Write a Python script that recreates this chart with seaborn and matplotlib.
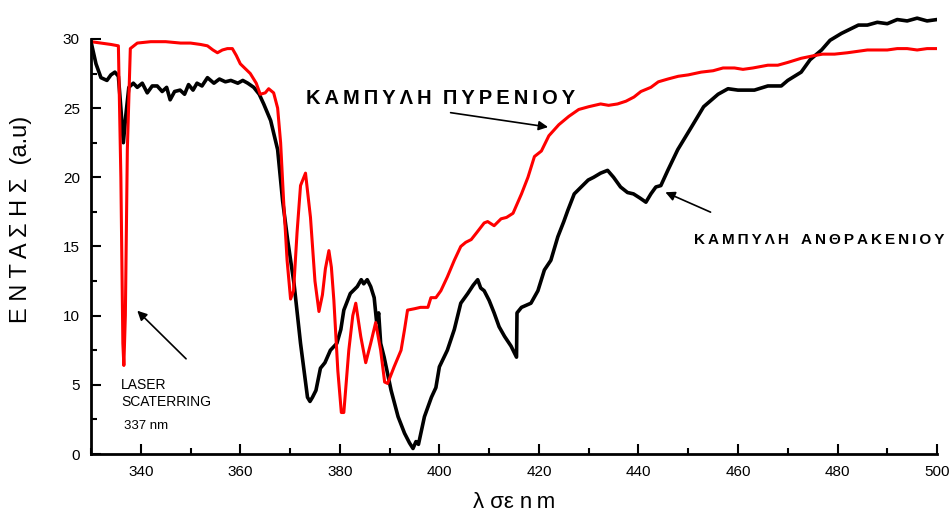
import matplotlib
matplotlib.use("Agg")
import matplotlib.pyplot as plt
import seaborn as sns
import pandas as pd
import numpy as np

# ---- data ----
anthracene_wl = [330.0, 330.5, 331.0, 332.0, 333.2, 334.0, 334.8, 335.5, 336.0, 336.5, 337.0, 337.6,
                 338.5, 339.3, 340.3, 341.3, 342.3, 343.3, 344.3, 345.2, 345.9, 346.8, 347.9, 348.8,
                 349.6, 350.5, 351.3, 352.3, 353.4, 354.7, 355.8, 357.0, 358.1, 359.5, 360.5, 361.5,
                 362.7, 363.8, 364.7, 366.1, 367.5, 368.5, 369.5, 370.8, 372.1, 373.5, 374.0, 374.5,
                 375.2, 376.1, 377.0, 378.1, 379.4, 380.2, 380.8, 382.1, 383.5, 384.3, 384.8, 385.5,
                 386.2, 386.9, 387.4, 387.8, 388.2, 388.9, 390.3, 391.7, 393.0, 394.0, 394.7, 395.3,
                 395.8, 397.0, 398.4, 399.3, 400.0, 401.6, 403.0, 404.3, 405.7, 406.8, 407.7, 408.3,
                 409.0, 410.0, 411.0, 412.0, 413.1, 414.4, 415.5, 415.6, 416.5, 418.4, 419.8, 421.1,
                 422.4, 423.8, 425.0, 425.8, 427.1, 428.5, 429.9, 431.0, 432.4, 433.8, 435.0, 436.4,
                 437.8, 439.0, 440.3, 441.5, 442.5, 443.5, 444.5, 445.9, 447.9, 450.6, 453.1, 456.0,
                 458.0, 460.0, 463.3, 466.0, 468.7, 470.0, 472.7, 474.5, 476.8, 478.5, 480.8, 482.5,
                 484.2, 486.0, 488.0, 490.0, 492.0, 494.0, 496.0, 498.0, 500.0]
anthracene_int = [29.8, 29.0, 28.2, 27.2, 27.0, 27.4, 27.6, 27.3, 25.0, 22.5, 24.5, 26.5,
                  26.8, 26.5, 26.8, 26.1, 26.6, 26.6, 26.2, 26.5, 25.6, 26.2, 26.3, 26.0,
                  26.7, 26.3, 26.8, 26.6, 27.2, 26.8, 27.1, 26.9, 27.0, 26.8, 27.0, 26.8,
                  26.5, 26.0, 25.3, 24.1, 22.0, 18.3, 15.5, 12.3, 8.0, 4.1, 3.8, 4.1,
                  4.6, 6.2, 6.6, 7.5, 8.0, 9.0, 10.4, 11.6, 12.1, 12.6, 12.3, 12.6,
                  12.1, 11.3, 9.5, 10.2, 8.0, 7.0, 4.6, 2.7, 1.5, 0.8, 0.4, 0.9,
                  0.7, 2.7, 4.1, 4.8, 6.3, 7.5, 9.0, 10.9, 11.6, 12.2, 12.6, 12.0,
                  11.8, 11.1, 10.2, 9.2, 8.5, 7.8, 7.0, 10.2, 10.6, 10.9, 11.8, 13.3,
                  14.0, 15.7, 16.8, 17.6, 18.8, 19.3, 19.8, 20.0, 20.3, 20.5, 20.0, 19.3,
                  18.9, 18.8, 18.5, 18.2, 18.8, 19.3, 19.4, 20.5, 22.0, 23.6, 25.1, 26.0,
                  26.4, 26.3, 26.3, 26.6, 26.6, 27.0, 27.6, 28.5, 29.2, 29.9, 30.4, 30.7,
                  31.0, 31.0, 31.2, 31.1, 31.4, 31.3, 31.5, 31.3, 31.4]

pyrene_wl = [330.0, 332.0, 334.0, 335.5, 336.0, 336.4, 336.6, 336.9, 337.3, 337.9, 339.3, 342.0,
             345.0, 348.0, 350.0, 352.0, 353.4, 354.5, 355.4, 356.4, 357.4, 358.4, 359.2, 360.0,
             362.0, 363.2, 364.0, 365.0, 365.7, 366.7, 367.5, 368.1, 368.7, 369.4, 370.1, 370.7,
             371.4, 372.1, 373.1, 374.1, 375.0, 375.8, 376.5, 377.1, 377.8, 378.3, 378.8, 379.6,
             380.3, 380.8, 381.8, 382.6, 383.2, 384.2, 385.2, 386.2, 387.2, 388.2, 389.0, 389.6,
             390.9, 392.3, 393.0, 393.6, 395.0, 396.2, 397.7, 398.3, 399.3, 400.3, 401.6, 403.0,
             404.3, 405.3, 406.4, 407.5, 409.0, 409.7, 411.0, 412.4, 413.5, 414.8, 416.5, 417.8,
             419.1, 420.5, 422.0, 424.0, 426.0, 428.0, 430.0, 432.4, 434.0, 435.8, 437.5, 439.1,
             440.5, 442.5, 444.0, 445.9, 448.0, 450.0, 452.6, 455.0, 457.0, 459.3, 461.0, 463.0,
             466.0, 468.0, 470.0, 472.7, 475.4, 477.0, 479.4, 482.0, 484.0, 486.0, 488.0, 490.0,
             492.0, 494.0, 496.0, 498.0, 500.0]
pyrene_int = [29.8, 29.7, 29.6, 29.5, 20.0, 8.0, 6.4, 10.0, 22.0, 29.3, 29.7, 29.8,
              29.8, 29.7, 29.7, 29.6, 29.5, 29.2, 29.0, 29.2, 29.3, 29.3, 28.8, 28.2,
              27.5, 26.8, 26.0, 26.1, 26.4, 26.1, 25.0, 22.5, 18.3, 14.0, 11.2, 11.8,
              16.0, 19.4, 20.3, 17.1, 12.5, 10.3, 11.5, 13.4, 14.7, 13.5, 11.1, 6.0,
              3.0, 3.0, 7.5, 10.0, 10.9, 8.5, 6.6, 8.0, 9.5, 7.5, 5.2, 5.1,
              6.3, 7.5, 9.0, 10.4, 10.5, 10.6, 10.6, 11.3, 11.3, 11.8, 12.8, 14.0,
              15.0, 15.3, 15.5, 16.0, 16.7, 16.8, 16.5, 17.0, 17.1, 17.4, 18.8, 20.0,
              21.5, 21.9, 23.0, 23.8, 24.4, 24.9, 25.1, 25.3, 25.2, 25.3, 25.5, 25.8,
              26.2, 26.5, 26.9, 27.1, 27.3, 27.4, 27.6, 27.7, 27.9, 27.9, 27.8, 27.9,
              28.1, 28.1, 28.3, 28.6, 28.8, 28.9, 28.9, 29.0, 29.1, 29.2, 29.2, 29.2,
              29.3, 29.3, 29.2, 29.3, 29.3]

x_ticks = [340, 360, 380, 400, 420, 440, 460, 480, 500]
y_ticks = [0, 5, 10, 15, 20, 25, 30]

sp = "\u2009"
def spaced(s, sep=sp):
    return sep.join(list(s))

pyrene_label = spaced("ΚΑΜΠΥΛΗ") + "  " + spaced("ΠΥΡΕΝΙΟΥ")
anthr_label = spaced("ΚΑΜΠΥΛΗ") + "   " + spaced("ΑΝΘΡΑΚΕΝΙΟΥ")
ylabel = spaced("ΕΝΤΑΣΗΣ", " ") + "  (a.u)"
xlabel = "λ σε n" + sp + "m"

# ---- plotting ----
sns.set_theme(style="ticks")
plt.rcParams["font.family"] = ["Liberation Sans", "DejaVu Sans"]
plt.rcParams["text.color"] = "black"
plt.rcParams["axes.labelcolor"] = "black"

fig = plt.figure(figsize=(9.49, 5.11), dpi=100)
ax = fig.add_axes([0.0959, 0.1115, 0.8915, 0.8665])

df_a = pd.DataFrame({"wl": anthracene_wl, "I": anthracene_int})
df_p = pd.DataFrame({"wl": pyrene_wl, "I": pyrene_int})
sns.lineplot(data=df_a, x="wl", y="I", ax=ax, color="black", linewidth=2.6, sort=False,
             estimator=None)
sns.lineplot(data=df_p, x="wl", y="I", ax=ax, color="#ff0000", linewidth=2.2, sort=False,
             estimator=None)

ax.set_xlim(330, 500)
ax.set_ylim(0, 32)
ax.set_xticks(x_ticks)
ax.set_xticks(np.arange(330, 501, 10), minor=True)
ax.set_yticks(y_ticks)
ax.set_yticks(np.arange(0, 30.1, 2.5), minor=True)
ax.spines["top"].set_visible(False)
ax.spines["right"].set_visible(False)
ax.spines["left"].set_bounds(0, 30)
for s in ["left", "bottom"]:
    ax.spines[s].set_linewidth(2.0)
    ax.spines[s].set_color("black")
ax.tick_params(which="major", direction="in", length=7, width=1.5, labelsize=11,
               colors="black", labelcolor="black")
ax.tick_params(which="minor", direction="in", length=4, width=1.5, colors="black")
ax.tick_params(axis="x", pad=8)
ax.tick_params(axis="y", pad=8)

ax.set_xlabel(xlabel, fontsize=16, labelpad=9)
ax.set_ylabel(ylabel, fontsize=17)
ax.yaxis.set_label_coords(-0.07, 0.53)

ax.text(373.1, 25.7, pyrene_label, fontsize=14.5, fontweight="bold", va="center",
        ha="left", clip_on=False)
ax.annotate("", xy=(422.4, 23.6), xytext=(401.7, 24.7),
            arrowprops=dict(arrowstyle="-|>", color="black", lw=1.2, mutation_scale=14))

ax.text(451.2, 15.45, anthr_label, fontsize=11, fontweight="bold", va="center",
        ha="left", clip_on=False)
ax.annotate("", xy=(444.9, 19.0), xytext=(455.0, 17.4),
            arrowprops=dict(arrowstyle="-|>", color="black", lw=1.2, mutation_scale=14))

ax.text(336.1, 4.98, "LASER", fontsize=10, va="center", ha="left")
ax.text(336.1, 3.78, "SCATERRING", fontsize=10, va="center", ha="left")
ax.text(336.7, 2.05, "337 nm", fontsize=9.5, va="center", ha="left")
ax.annotate("", xy=(338.9, 10.5), xytext=(349.5, 6.74),
            arrowprops=dict(arrowstyle="-|>", color="black", lw=1.2, mutation_scale=14))

fig.savefig("out.png", dpi=100)
